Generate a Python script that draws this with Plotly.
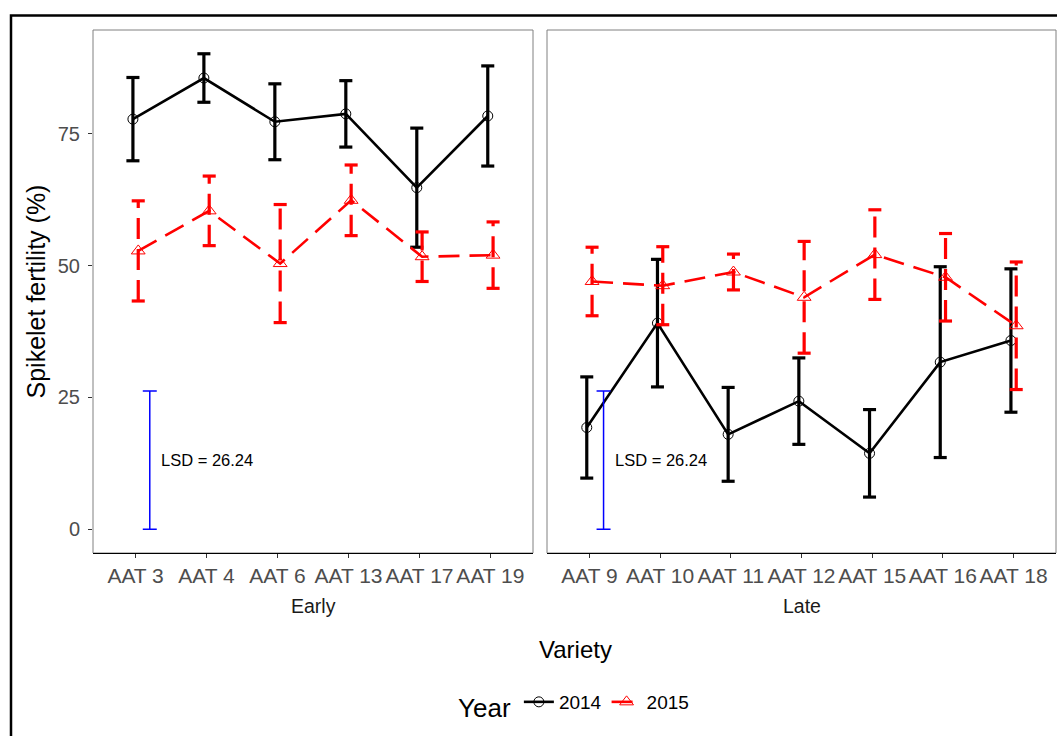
import plotly.graph_objects as go

# ---- data -------------------------------------------------------------
early_varieties = ["AAT 3", "AAT 4", "AAT 6", "AAT 13", "AAT 17", "AAT 19"]
late_varieties = ["AAT 9", "AAT 10", "AAT 11", "AAT 12", "AAT 15", "AAT 16", "AAT 18"]
years = ["2014", "2015"]

# mean spikelet fertility (%) and half-width of the error bars
early_mean_2014 = [77.8, 85.6, 77.3, 78.8, 64.8, 78.4]
early_err_2014 = [7.9, 4.6, 7.2, 6.3, 11.3, 9.5]
early_mean_2015 = [52.8, 60.4, 50.4, 62.4, 51.7, 52.0]
early_err_2015 = [9.5, 6.6, 11.2, 6.7, 4.7, 6.3]

late_mean_2014 = [19.3, 39.1, 18.0, 24.3, 14.4, 31.7, 35.8]
late_err_2014 = [9.6, 12.1, 8.9, 8.2, 8.3, 18.1, 13.6]
late_mean_2015 = [47.0, 46.2, 48.8, 44.0, 52.1, 47.8, 38.6]
late_err_2015 = [6.5, 7.4, 3.4, 10.6, 8.5, 8.3, 12.1]

lsd = 26.24
lsd_label = "LSD = 26.24"

# ---- styling ------------------------------------------------------------
FONT = "Liberation Sans, Arial, sans-serif"
W, H = 1057, 736

styles = {
    "2014": dict(color="black", dash="solid", symbol="circle-open", size=10, offset=-0.0375),
    "2015": dict(color="red", dash="21px,10px", symbol="triangle-up-open", size=12, offset=0.0375),
}
cap_half = 0.092      # half-width of error-bar caps, in category units
lsd_pos = 1.2         # horizontal position of the LSD bar, in category units

panels = [
    dict(name="Early", varieties=early_varieties,
         mean={"2014": early_mean_2014, "2015": early_mean_2015},
         err={"2014": early_err_2014, "2015": early_err_2015},
         xaxis="x", yaxis="y"),
    dict(name="Late", varieties=late_varieties,
         mean={"2014": late_mean_2014, "2015": late_mean_2015},
         err={"2014": late_err_2014, "2015": late_err_2015},
         xaxis="x2", yaxis="y2"),
]

fig = go.Figure()

for pi, p in enumerate(panels):
    n = len(p["varieties"])
    for yr in years:
        st = styles[yr]
        xs = [i + 1 + st["offset"] for i in range(n)]
        means = p["mean"][yr]
        errs = p["err"][yr]

        # vertical part of the error bars
        vx, vy = [], []
        for x, m, e in zip(xs, means, errs):
            vx += [x, x, None]
            vy += [m - e, m + e, None]
        fig.add_trace(go.Scatter(
            x=vx, y=vy, mode="lines", xaxis=p["xaxis"], yaxis=p["yaxis"],
            line=dict(color=st["color"], width=3.2, dash=st["dash"]),
            hoverinfo="skip", showlegend=False))

        # caps of the error bars
        cx, cy = [], []
        for x, m, e in zip(xs, means, errs):
            for yv in (m - e, m + e):
                cx += [x - cap_half, x + cap_half, None]
                cy += [yv, yv, None]
        fig.add_trace(go.Scatter(
            x=cx, y=cy, mode="lines", xaxis=p["xaxis"], yaxis=p["yaxis"],
            line=dict(color=st["color"], width=3.2),
            hoverinfo="skip", showlegend=False))

        # means joined by a line
        fig.add_trace(go.Scatter(
            x=xs, y=means, mode="lines+markers", name=yr,
            xaxis=p["xaxis"], yaxis=p["yaxis"],
            line=dict(color=st["color"], width=2.6, dash=st["dash"]),
            marker=dict(symbol=st["symbol"], size=st["size"], color=st["color"],
                        line=dict(width=1, color=st["color"])),
            legendgroup=yr, showlegend=(pi == 0)))

    # LSD bar
    fig.add_trace(go.Scatter(
        x=[lsd_pos], y=[lsd / 2], mode="markers", xaxis=p["xaxis"], yaxis=p["yaxis"],
        marker=dict(size=1, opacity=0),
        error_y=dict(type="data", array=[lsd / 2], symmetric=True,
                     color="#0000FF", thickness=1.5, width=7),
        hoverinfo="skip", showlegend=False))

# ---- axes -------------------------------------------------------------
all_hi = [m + e for p in panels for yr in years for m, e in zip(p["mean"][yr], p["err"][yr])]
y_lo_data = 0.0
y_hi_data = max(all_hi + [lsd])
pad = 0.05 * (y_hi_data - y_lo_data)
y_range = [y_lo_data - pad, y_hi_data + pad]

px_l, px_m1, px_m2, px_r = 93, 533, 547, 1056
px_top, px_bot = 30, 553
ydom = [1 - px_bot / H, 1 - px_top / H]

xtickfont = dict(family=FONT, size=21, color="#4D4D4D")
ytickfont = dict(family=FONT, size=20, color="#4D4D4D")
common_x = dict(showgrid=False, zeroline=False, ticks="outside", ticklen=4,
                tickcolor="#333333", tickwidth=1, tickfont=xtickfont,
                showline=True, linecolor="black", linewidth=1, fixedrange=True)

fig.update_layout(
    width=W, height=H,
    margin=dict(l=0, r=0, t=0, b=0),
    paper_bgcolor="white", plot_bgcolor="white",
    font=dict(family=FONT, color="black"),
    xaxis=dict(domain=[px_l / W, px_m1 / W], range=[0.4, len(early_varieties) + 0.6],
               tickvals=list(range(1, len(early_varieties) + 1)),
               ticktext=early_varieties, **common_x),
    xaxis2=dict(domain=[px_m2 / W, px_r / W], range=[0.4, len(late_varieties) + 0.6],
                tickvals=list(range(1, len(late_varieties) + 1)),
                ticktext=late_varieties, anchor="y2", **common_x),
    yaxis=dict(domain=ydom, range=y_range, tickvals=[0, 25, 50, 75],
               showgrid=False, zeroline=False, ticks="outside", ticklen=4,
               tickcolor="#333333", tickfont=ytickfont, ticklabelstandoff=4,
               fixedrange=True),
    yaxis2=dict(domain=ydom, range=y_range, matches="y", anchor="x2",
                showgrid=False, zeroline=False, showticklabels=False, ticks="",
                fixedrange=True),
    legend=dict(orientation="h", x=575 / W, xanchor="center",
                y=1 - 705 / H, yanchor="middle",
                title=dict(text="Year", side="left",
                           font=dict(family=FONT, size=26, color="black")),
                font=dict(family=FONT, size=19, color="black"),
                itemwidth=30, bgcolor="rgba(0,0,0,0)"),
    showlegend=True,
)

# panel borders and outer frame
shapes = []
for xr, yr in (("x domain", "y domain"), ("x2 domain", "y2 domain")):
    shapes.append(dict(type="rect", xref=xr, yref=yr, x0=0, x1=1, y0=0, y1=1,
                       line=dict(color="#808080", width=1), layer="below"))
shapes.append(dict(type="rect", xref="paper", yref="paper",
                   x0=11 / W, x1=1.05, y0=-0.05, y1=1 - 15.5 / H,
                   line=dict(color="black", width=2.5), layer="below"))
fig.update_layout(shapes=shapes)

# titles, strip labels and LSD labels
annotations = [
    dict(text="Spikelet fertility (%)", xref="paper", yref="paper",
         x=35 / W, y=1 - 291.5 / H, textangle=-90, showarrow=False,
         xanchor="center", yanchor="middle",
         font=dict(family=FONT, size=25, color="black")),
    dict(text="Variety", xref="paper", yref="paper",
         x=575 / W, y=1 - 649.5 / H, showarrow=False,
         xanchor="center", yanchor="middle",
         font=dict(family=FONT, size=24, color="black")),
]
for p in panels:
    annotations.append(dict(text=p["name"], xref=p["xaxis"] + " domain", yref="paper",
                            x=0.5, y=1 - 606 / H, showarrow=False,
                            xanchor="center", yanchor="middle",
                            font=dict(family=FONT, size=19.5, color="#1A1A1A")))
    annotations.append(dict(text=lsd_label, xref=p["xaxis"], yref=p["yaxis"],
                            x=lsd_pos + 0.13, y=lsd / 2, showarrow=False,
                            xanchor="left", yanchor="middle",
                            font=dict(family=FONT, size=16.5, color="black")))
fig.update_layout(annotations=annotations)

fig.write_html("out.html")
